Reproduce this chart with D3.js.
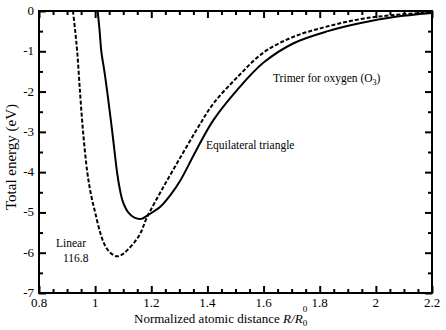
<!DOCTYPE html>
<html><head><meta charset="utf-8">
<script src="https://cdn.jsdelivr.net/npm/d3@7"></script>
<style>
html,body{margin:0;padding:0;background:#fff;}
</style></head>
<body><svg id="c" width="446" height="330"></svg>
<script>
// Data: normalized distance R/R0 and total energy (eV)
const triR = [1.009, 1.016, 1.022, 1.033, 1.043, 1.061, 1.078, 1.086, 1.098, 1.118, 1.14, 1.165, 1.185, 1.21, 1.232, 1.27, 1.304, 1.357, 1.42, 1.507, 1.6, 1.707, 1.829, 1.946, 2.064, 2.2];
const triE = [0, -0.5, -1.0, -1.5, -2.0, -3.0, -4.0, -4.35, -4.72, -5.0, -5.13, -5.16, -5.08, -4.97, -4.86, -4.55, -4.2, -3.5, -2.72, -1.95, -1.28, -0.8, -0.5, -0.3, -0.15, -0.05];
const linR = [0.921, 0.929, 0.936, 0.946, 0.957, 0.972, 0.985, 1.0, 1.018, 1.035, 1.054, 1.078, 1.095, 1.114, 1.14, 1.161, 1.185, 1.243, 1.304, 1.364, 1.421, 1.507, 1.6, 1.707, 1.829, 1.946, 2.064, 2.2];
const linE = [0, -0.5, -1.0, -2.0, -3.0, -4.0, -4.55, -5.0, -5.5, -5.82, -6.0, -6.09, -6.05, -5.94, -5.74, -5.52, -5.12, -4.37, -3.63, -2.92, -2.3, -1.64, -1.03, -0.64, -0.38, -0.2, -0.1, -0.03];
const xMajor = [0.8, 1, 1.2, 1.4, 1.6, 1.8, 2, 2.2];
const xMajorLabels = ["0.8", "1", "1.2", "1.4", "1.6", "1.8", "2", "2.2"];
const yMajor = [0, -1, -2, -3, -4, -5, -6, -7];
const yMajorLabels = ["0", "-1", "-2", "-3", "-4", "-5", "-6", "-7"];
const labelLinear = ["Linear", "116.8"];
const labelTri = "Equilateral triangle";
const labelTrimer = "Trimer for oxygen (O";

// pick an installed serif face
function pickFont() {
  const cands = ["Liberation Serif", "Tinos", "Times New Roman", "Times", "DejaVu Serif", "Noto Serif", "FreeSerif", "Nimbus Roman", "Nimbus Roman No9 L"];
  const ctx = document.createElement("canvas").getContext("2d");
  const s = "Normalized atomic distance Wil 116.8";
  const w = f => { ctx.font = "20px " + f; return ctx.measureText(s).width; };
  const wm = w("monospace"), ws = w("sans-serif");
  for (const c of cands) {
    const a = w(`"${c}", monospace`), b = w(`"${c}", sans-serif`);
    if (Math.abs(a - wm) > 0.5 || Math.abs(b - ws) > 0.5) return `"${c}", serif`;
  }
  return "serif";
}
const FONT = pickFont();

const L = 39, R = 432, T = 11, B = 293;
const x = d3.scaleLinear().domain([0.8, 2.2]).range([L, R]);
const y = d3.scaleLinear().domain([-7, 0]).range([B, T]);
const svg = d3.select("#c").style("font-family", FONT);

svg.append("clipPath").attr("id","clip").append("rect")
  .attr("x", L).attr("y", T).attr("width", R - L).attr("height", B - T);

const xMinor = d3.range(0.8, 2.2001, 0.05).map(v => +v.toFixed(2));
const yMinor = d3.range(-7, 0.001, 0.5).map(v => +v.toFixed(1));
const isMajX = v => xMajor.some(m => Math.abs(m - v) < 1e-6);
const isMajY = v => yMajor.some(m => Math.abs(m - v) < 1e-6);

// axes (ticks inward), use d3 axes
const gBottom = svg.append("g").attr("transform", `translate(0,${B})`)
  .call(d3.axisTop(x).tickValues(xMinor).tickSize(0).tickFormat(""));
gBottom.selectAll(".tick line").attr("y2", d => isMajX(d) ? -7 : -4);
const gTop = svg.append("g").attr("transform", `translate(0,${T})`)
  .call(d3.axisBottom(x).tickValues(xMinor).tickSize(0).tickFormat(""));
gTop.selectAll(".tick line").attr("y2", d => isMajX(d) ? 7 : 4);
const gLeft = svg.append("g").attr("transform", `translate(${L},0)`)
  .call(d3.axisRight(y).tickValues(yMinor).tickSize(0).tickFormat(""));
gLeft.selectAll(".tick line").attr("x2", d => isMajY(d) ? 7 : 4);
const gRight = svg.append("g").attr("transform", `translate(${R},0)`)
  .call(d3.axisLeft(y).tickValues(yMinor).tickSize(0).tickFormat(""));
gRight.selectAll(".tick line").attr("x2", d => isMajY(d) ? -7 : -4);
svg.selectAll(".domain").remove();
svg.selectAll(".tick line").attr("stroke", "#000").attr("stroke-width", 2);

svg.append("rect").attr("x", L).attr("y", T).attr("width", R - L).attr("height", B - T)
  .attr("fill", "none").attr("stroke", "#000").attr("stroke-width", 2);

const txt = sel => sel.style("font-family", FONT).attr("fill", "#000");

// tick labels
svg.append("g").selectAll("text").data(xMajor).join("text").call(txt)
  .attr("x", d => x(d)).attr("y", 307).attr("text-anchor", "middle")
  .attr("font-size", 13).text((d, i) => xMajorLabels[i]);
svg.append("g").selectAll("text").data(yMajor).join("text").call(txt)
  .attr("x", 34).attr("y", d => y(d) + 4).attr("text-anchor", "end")
  .attr("font-size", 13).text((d, i) => yMajorLabels[i]);

// curves
const line = d3.line().x(d => x(d[0])).y(d => y(d[1])).curve(d3.curveCatmullRom.alpha(0.5));
const g = svg.append("g").attr("clip-path", "url(#clip)");
g.append("path").datum(triR.map((r, i) => [r, triE[i]])).attr("d", line)
  .attr("fill", "none").attr("stroke", "#000").attr("stroke-width", 2);
g.append("path").datum(linR.map((r, i) => [r, linE[i]])).attr("d", line)
  .attr("fill", "none").attr("stroke", "#000").attr("stroke-width", 2).attr("stroke-dasharray", "4,2");

// annotations
svg.append("text").call(txt).attr("x", 56).attr("y", 247).attr("font-size", 11.5).text(labelLinear[0]);
svg.append("text").call(txt).attr("x", 63).attr("y", 262).attr("font-size", 11.5).text(labelLinear[1]);
svg.append("text").call(txt).attr("x", 206).attr("y", 149).attr("font-size", 11.5).text(labelTri);
const tt = svg.append("text").call(txt).attr("x", 273).attr("y", 82).attr("font-size", 11.5);
tt.append("tspan").text(labelTrimer);
tt.append("tspan").attr("font-size", 8).attr("dy", 3).text("3");
tt.append("tspan").attr("dy", -3).text(")");

// axis titles
svg.append("text").call(txt).attr("transform", "translate(16,157) rotate(-90)")
  .attr("text-anchor", "middle").attr("font-size", 15).text("Total energy (eV)");
const xt = svg.append("text").call(txt).attr("x", 134).attr("y", 323).attr("font-size", 13);
xt.append("tspan").text("Normalized atomic distance ");
xt.append("tspan").attr("font-style", "italic").text("R/R");
const bb = xt.node().getBBox();
const endX = bb.x + bb.width;
svg.append("text").call(txt).attr("x", endX).attr("y", 326).attr("font-size", 9).text("0");
svg.append("text").call(txt).attr("x", endX).attr("y", 312).attr("font-size", 9).text("0");
</script></body></html>
